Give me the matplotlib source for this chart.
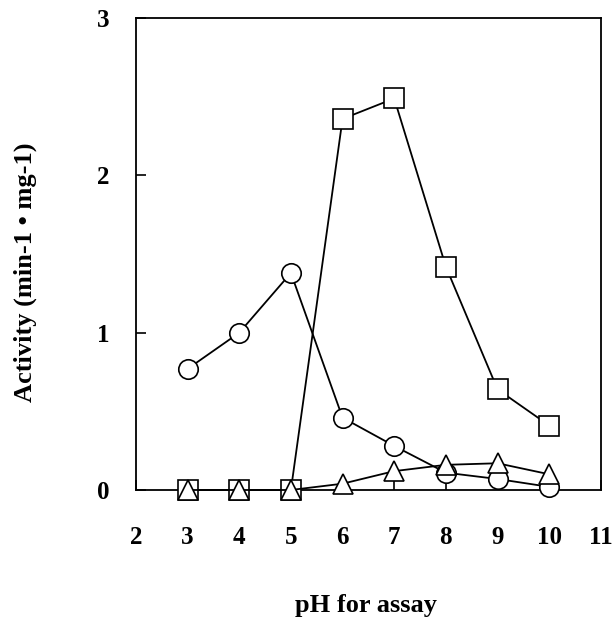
import matplotlib
matplotlib.use("Agg")
import matplotlib.pyplot as plt

# pH values and activities
ph = [3, 4, 5, 6, 7, 8, 9, 10]
circle_act = [0.77, 1.00, 1.38, 0.46, 0.28, 0.11, 0.07, 0.02]
square_act = [0.0, 0.0, 0.0, 2.36, 2.49, 1.42, 0.64, 0.41]
triangle_act = [0.0, 0.0, 0.0, 0.04, 0.12, 0.16, 0.17, 0.10]

x_ticks = [2, 3, 4, 5, 6, 7, 8, 9, 10, 11]
y_ticks = [0, 1, 2, 3]

plt.rcParams['font.family'] = ['Liberation Serif', 'DejaVu Serif']
plt.rcParams['font.weight'] = 'bold'

fig = plt.figure(figsize=(6.15, 6.29), dpi=100)
ax = fig.add_axes([0.221, 0.221, 0.756, 0.750])

style = dict(color='black', lw=1.3, mfc='white', mec='black', mew=1.2, ms=14, clip_on=False)
ax.plot(ph, circle_act, marker='o', zorder=3, **style)
ax.plot(ph, square_act, marker='s', zorder=3, **style)
ax.plot(ph, triangle_act, marker='^', zorder=4, **style)

ax.set_xlim(2, 11)
ax.set_ylim(0, 3)
ax.set_xticks(x_ticks)
ax.set_yticks(y_ticks)
ax.tick_params(axis='x', direction='in', length=7, width=1.2, pad=26, labelsize=18)
ax.tick_params(axis='y', direction='in', length=7, width=1.2, pad=19, labelsize=18)
for s in ax.spines.values():
    s.set_linewidth(1.3)

ax.set_xlabel('pH for assay', fontsize=19, fontweight='bold', va='center')
ax.set_ylabel('Activity (min-1 \u2022 mg-1)', fontsize=19, fontweight='bold', va='center')
ax.xaxis.set_label_coords(0.495, -0.244)
ax.yaxis.set_label_coords(-0.239, 0.462)

fig.savefig('out.png', dpi=100, facecolor='white')
